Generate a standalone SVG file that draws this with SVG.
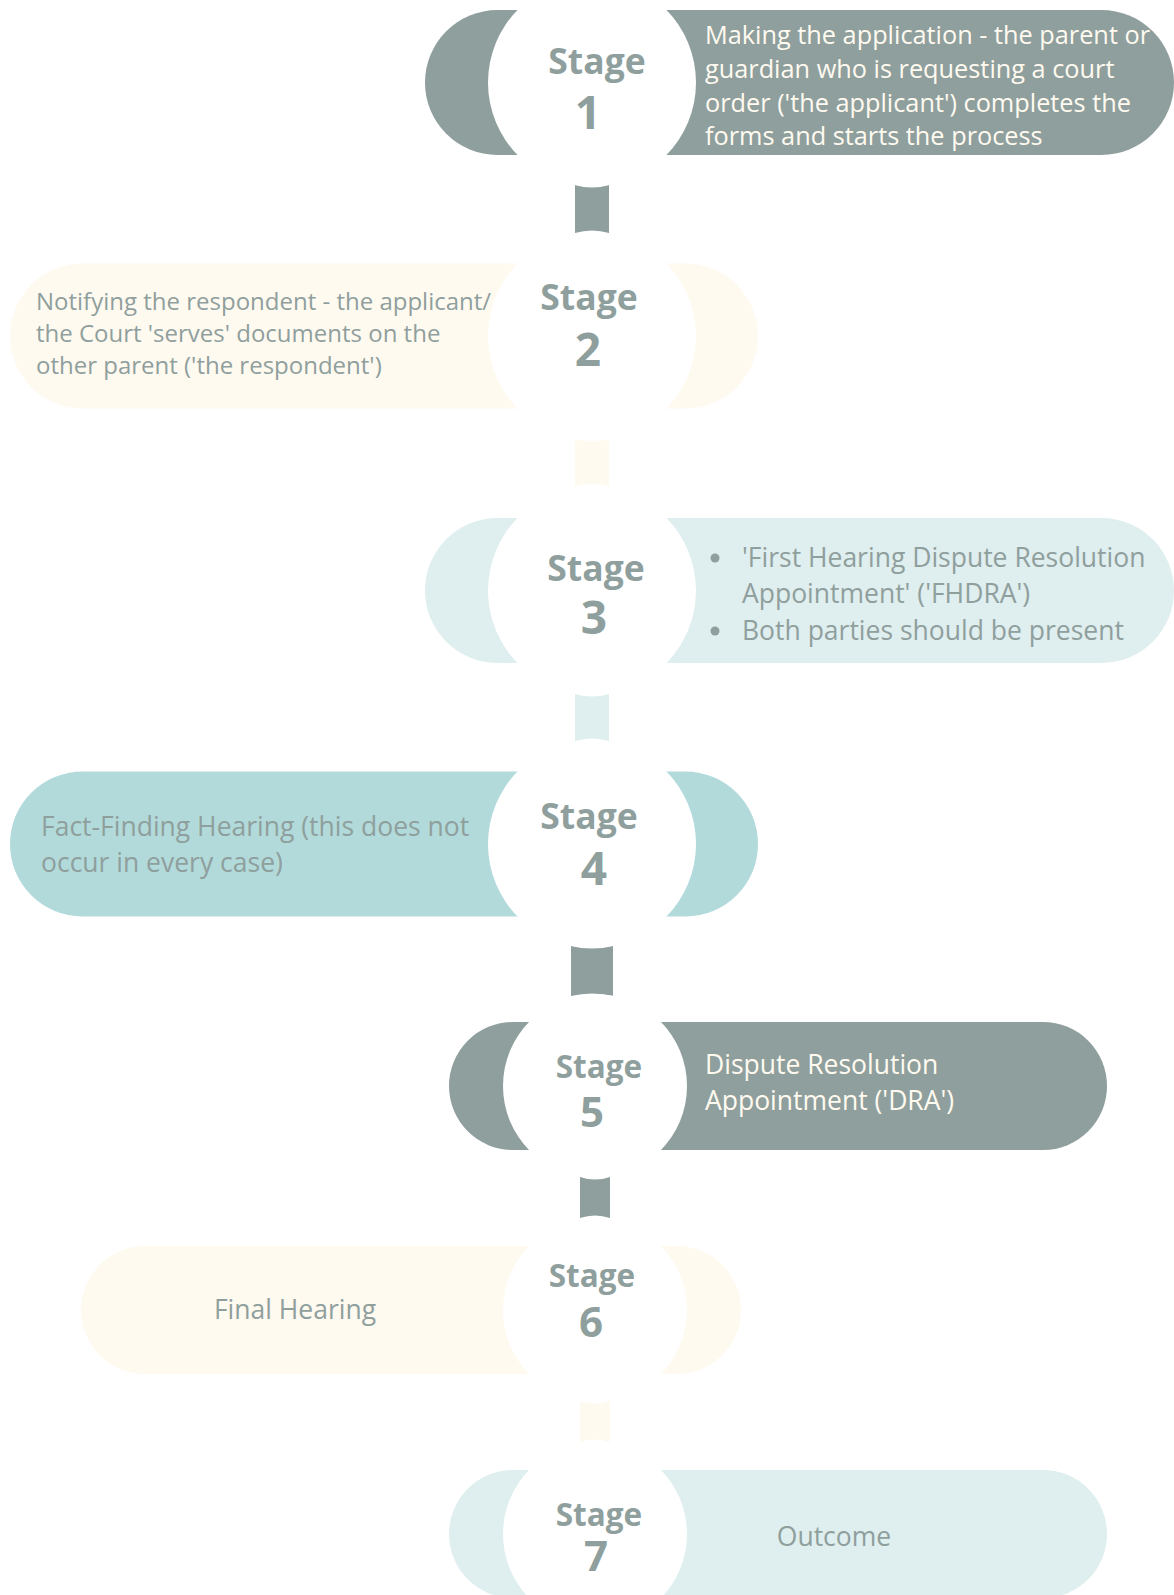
<svg xmlns="http://www.w3.org/2000/svg" width="1174" height="1595" viewBox="0 0 1174 1595">
<style>
.gray{fill:#8f9f9d}
.cream{fill:#fffaf0}
.lteal{fill:#dfeeee}
.mteal{fill:#b2dada}
.hole{fill:#ffffff}
.st{font-family:"Open Sans","Liberation Sans",sans-serif;font-weight:700;fill:#8f9f9d;text-anchor:middle}
.s1{font-size:35.5px}
.n1{font-size:46px}
.s2{font-size:31.5px}
.n2{font-size:42px}
.d{font-family:"Open Sans","Liberation Sans",sans-serif;font-size:26.5px}
.dl{fill:#fffaf0}
.dd{fill:#8f9f9d}
</style>
<rect width="1174" height="1595" fill="#ffffff"/>
<g id="connectors">
<path class="gray" d="M575 185 Q592 190 609 185 L609 233 Q592 228 575 233 Z"/>
<path class="cream" d="M575 439 Q592 444 609 439 L609 486 Q592 481 575 486 Z"/>
<path class="lteal" d="M575 694 Q592 699 609 694 L609 741 Q592 736 575 741 Z"/>
<path class="gray" d="M571 946 Q592 951 613 946 L613 996 Q592 991 571 996 Z"/>
<path class="gray" d="M580 1177 Q595 1182 610 1177 L610 1218 Q595 1213 580 1218 Z"/>
<path class="cream" d="M580 1401 Q595 1406 610 1401 L610 1442 Q595 1437 580 1442 Z"/>
</g>
<g id="stage1">
<rect class="gray" x="425" y="10" width="749" height="145" rx="72.5"/>
<circle class="hole" cx="592" cy="82.5" r="104"/>
<text class="st s1" x="597" y="74">Stage</text>
<text class="st n1" x="588" y="129">1</text>
<text class="d dl" style="font-size:25.3px" x="705" y="44">Making the application - the parent or</text>
<text class="d dl" style="font-size:25.3px" x="705" y="78">guardian who is requesting a court</text>
<text class="d dl" style="font-size:25.3px" x="705" y="112">order ('the applicant') completes the</text>
<text class="d dl" style="font-size:25.3px" x="705" y="145">forms and starts the process</text>
</g>
<g id="stage2">
<rect class="cream" x="10" y="263.5" width="748" height="145" rx="72.5"/>
<circle class="hole" cx="592" cy="336" r="104"/>
<text class="st s1" x="589" y="310">Stage</text>
<text class="st n1" x="588" y="366">2</text>
<text class="d dd" style="font-size:24px" x="36" y="310">Notifying the respondent - the applicant/</text>
<text class="d dd" style="font-size:24px" x="36" y="342">the Court 'serves' documents on the</text>
<text class="d dd" style="font-size:24px" x="36" y="374">other parent ('the respondent')</text>
</g>
<g id="stage3">
<rect class="lteal" x="425" y="518" width="749" height="145" rx="72.5"/>
<circle class="hole" cx="592" cy="590.5" r="104"/>
<text class="st s1" x="596" y="581">Stage</text>
<text class="st n1" x="594" y="634">3</text>
<circle class="gray" cx="715" cy="558" r="4.5"/>
<circle class="gray" cx="715" cy="631" r="4.5"/>
<text class="d dd" x="742" y="567">'First Hearing Dispute Resolution</text>
<text class="d dd" x="742" y="603">Appointment' ('FHDRA')</text>
<text class="d dd" x="742" y="640">Both parties should be present</text>
</g>
<g id="stage4">
<rect class="mteal" x="10" y="771.5" width="748" height="145" rx="72.5"/>
<circle class="hole" cx="592" cy="844" r="104"/>
<text class="st s1" x="589" y="829">Stage</text>
<text class="st n1" x="594" y="885">4</text>
<text class="d dd" x="41" y="836">Fact-Finding Hearing (this does not</text>
<text class="d dd" x="41" y="872">occur in every case)</text>
</g>
<g id="stage5">
<rect class="gray" x="449" y="1022" width="658" height="128" rx="64"/>
<circle class="hole" cx="595" cy="1086" r="92"/>
<text class="st s2" x="599" y="1078">Stage</text>
<text class="st n2" x="592" y="1127">5</text>
<text class="d dl" x="705" y="1074">Dispute Resolution</text>
<text class="d dl" x="705" y="1110">Appointment ('DRA')</text>
</g>
<g id="stage6">
<rect class="cream" x="81" y="1246" width="660" height="128" rx="64"/>
<circle class="hole" cx="595" cy="1310" r="92"/>
<text class="st s2" x="592" y="1287">Stage</text>
<text class="st n2" x="591" y="1337">6</text>
<text class="d dd" x="295" y="1319" text-anchor="middle">Final Hearing</text>
</g>
<g id="stage7">
<rect class="lteal" x="449" y="1470" width="658" height="128" rx="64"/>
<circle class="hole" cx="595" cy="1534" r="92"/>
<text class="st s2" x="599" y="1526">Stage</text>
<text class="st n2" x="596" y="1571">7</text>
<text class="d dd" x="834" y="1546" text-anchor="middle">Outcome</text>
</g>
</svg>
